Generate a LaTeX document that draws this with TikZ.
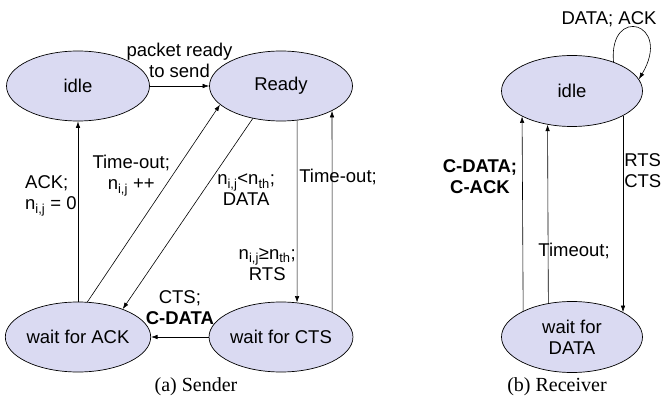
\documentclass[tikz,border=0pt]{standalone}
\usepackage{fontspec}
\setmainfont{Liberation Sans}
\newfontfamily\capfont{Liberation Serif}
\usetikzlibrary{shapes,arrows.meta}
\definecolor{statefill}{RGB}{218,218,242}

\begin{document}
\begin{tikzpicture}[x=1pt, y=-1pt,
    state/.style={ellipse, draw=black, line width=0.7pt, fill=statefill, minimum width=143pt, minimum height=70pt, inner sep=0pt, align=center, font=\fontsize{18.5}{21}\selectfont},
    lbl/.style={inner sep=1pt, align=center, font=\fontsize{18.5}{21}\selectfont},
    subcap/.style={font=\capfont\fontsize{20}{22}\selectfont, anchor=base},
    >={Latex[length=6.5pt,width=4.5pt]},
    every path/.style={line width=0.6pt}]
            \useasboundingbox (0,0) rectangle (661,403);
            \node[state] (idle) at (78,86) {idle};
            \node[state] (ready) at (281,86) {Ready};
            \node[state] (waitack) at (78,337) {wait for ACK};
            \node[state] (waitcts) at (281,337) {wait for CTS};
            \node[state, minimum width=141pt, minimum height=71pt] (ridle) at (572,91) {idle};
            \node[state, minimum width=141pt, minimum height=71pt] (rwait) at (572,337) {wait for\\DATA};
            \node[subcap] (capa) at (196,391) {(a) Sender};
            \node[subcap] (capb) at (557,391) {(b) Receiver};
            % sender
            \draw[->] (idle) -- node[lbl, above=7pt] {packet ready\\to send} (ready);
            \draw[->] (waitack.north) -- node[lbl, align=left, pos=0.586, left=0pt] {ACK;\\n\textsubscript{i,j} = 0} (idle.south);
            \draw[->] (waitack.75) -- node[lbl, pos=0.64, left=1pt] {Time-out;\\n\textsubscript{i,j} ++} (ready.197);
            \draw[->] (ready.229) -- node[lbl, pos=0.375, right=12pt] {n\textsubscript{i,j}<n\textsubscript{th};\\DATA} (waitack.32);
            \draw[->] (ready.-65) -- node[lbl, pos=0.79, left=0pt] {n\textsubscript{i,j}≥n\textsubscript{th};\\RTS} (waitcts.65);
            \draw[->] (waitcts.26) -- node[lbl, pos=0.67, xshift=6pt] {Time-out;} (ready.-26);
            \draw[->] (waitcts) -- node[lbl, above=11pt] {CTS;\\\textbf{C-DATA}} (waitack);
            % receiver
            \draw[->] (rwait.152.5) -- node[lbl, pos=0.69, left=4pt] {\textbf{C-DATA;}\\\textbf{C-ACK}} (ridle.207.5);
            \draw[->] (rwait.125.7) -- node[lbl, pos=0.29, xshift=26pt] {Timeout;} (ridle.234.3);
            \draw[->] (ridle.-26.6) -- node[lbl, align=left, pos=0.28, right=0pt] {RTS\\CTS} (rwait.26.6);
            \draw[->] (ridle.35) .. controls +(-5,-57) and +(34,-57) .. node[lbl, pos=0.5, above=0pt, xshift=-28pt] {DATA; ACK} (ridle.10);
        \end{tikzpicture}
\end{document}
